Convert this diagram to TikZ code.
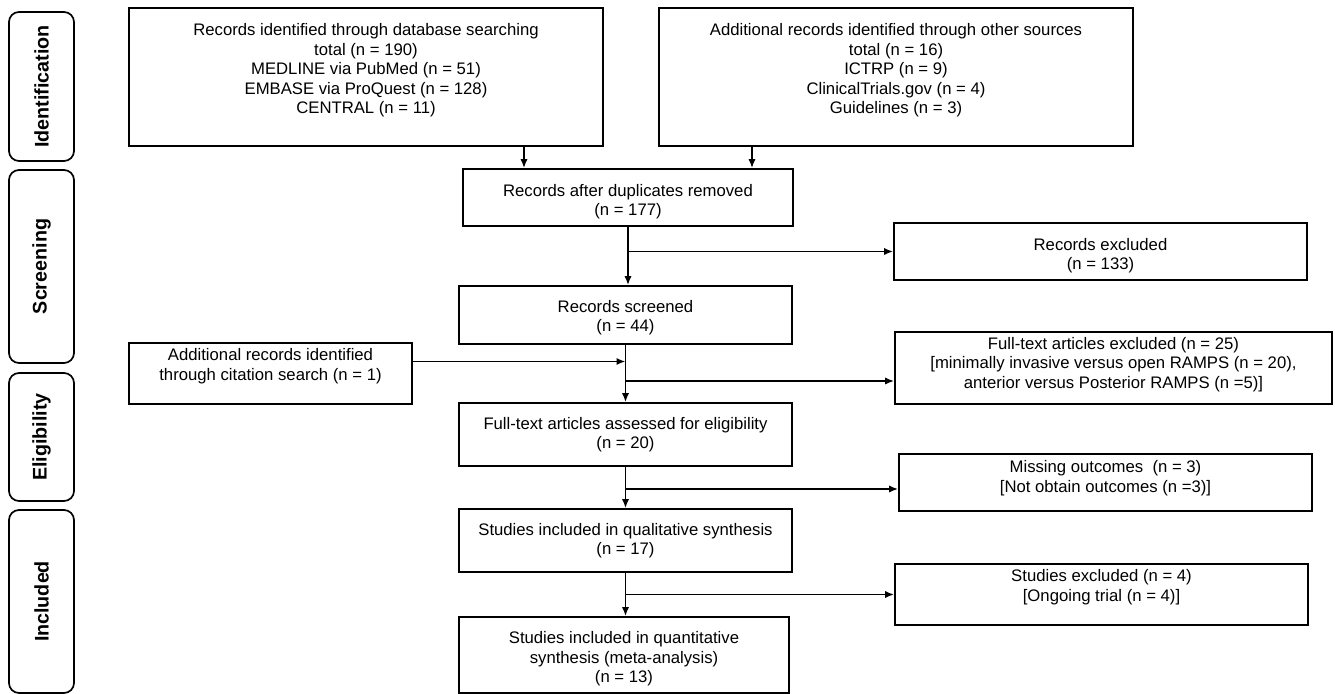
\documentclass[tikz,border=0pt]{standalone}
\usepackage{fontspec}
\setmainfont{Liberation Sans}
\usetikzlibrary{arrows.meta}
\newcommand{\toppad}[1]{\rule{0pt}{#1}}
\newcommand{\botpad}[1]{\rule[-#1]{0pt}{#1}}
\begin{document}
\begin{tikzpicture}[x=0.5pt,y=-0.5pt,>={Latex[length=4.5pt,width=3.6pt]},line width=0.85pt,
	font=\fontsize{8.35}{9.75}\selectfont,
	box/.style 2 args={draw,align=center,inner sep=0pt,minimum width=#1,minimum height=#2},
	stage/.style={draw,rounded corners=5pt,rotate=90,minimum height=32.5pt,inner sep=0pt,font=\fontsize{9.85}{12}\selectfont\bfseries}]
	\useasboundingbox (0,0) rectangle (1335,694);
	% phases
	\foreach \y/\h/\t in {86.5/74.5/Identification,266.5/96.5/Screening,437/64/Eligibility,601.5/91.5/Included}
	\node[stage,minimum width=\h pt] (\t) at (41.5,\y) {\t};
	% main column
	\node[box={237pt}{69pt}] (db) at (366,77) {Records identified through database searching\\total (n = 190)\\MEDLINE via PubMed (n = 51)\\EMBASE via ProQuest (n = 128)\\CENTRAL (n = 11)\botpad{8.25pt}};
	\node[box={237pt}{69pt}] (other) at (896,77) {Additional records identified through other sources\\total (n = 16)\\ICTRP (n = 9)\\ClinicalTrials.gov (n = 4)\\Guidelines (n = 3)\botpad{8.25pt}};
	\node[box={165pt}{28.5pt}] (dup) at (628,197.5) {\toppad{10.1pt}Records after duplicates removed\\(n = 177)};
	\node[box={166.5pt}{29pt}] (screened) at (625.5,315) {\toppad{8.6pt}Records screened\\(n = 44)};
	\node[box={141.5pt}{30.5pt}] (cite) at (270.5,373.5) {Additional records identified\\through citation search (n = 1)\botpad{9.25pt}};
	\node[box={166.5pt}{31.5pt}] (assessed) at (625.5,434.5) {Full-text articles assessed for eligibility\\(n = 20)};
	\node[box={166.5pt}{31.5pt}] (qual) at (625.5,540.5) {Studies included in qualitative synthesis\\(n = 17)};
	\node[box={165pt}{38pt}] (quant) at (624,655) {\toppad{9.8pt}Studies included in quantitative\\synthesis (meta-analysis)\\(n = 13)};
	% exclusions
	\node[box={206.5pt}{28.5pt}] (excl) at (1100.5,251.5) {\toppad{10.1pt}Records excluded\\(n = 133)};
	\node[box={218.5pt}{36pt}] (ftexcl) at (1113.5,368) {Full-text articles excluded (n = 25)\\{[}minimally invasive versus open RAMPS (n = 20),\\anterior versus Posterior RAMPS (n =5)]\botpad{5.25pt}};
	\node[box={206.5pt}{28.5pt}] (missing) at (1105.5,482.5) {Missing outcomes~~(n = 3)\\{[}Not obtain outcomes (n =3)]\botpad{6.25pt}};
	\node[box={206.5pt}{30.5pt}] (studexcl) at (1101.5,594.5) {Studies excluded (n = 4)\\{[}Ongoing trial (n = 4)]\botpad{9.25pt}};
	% arrows
	\draw[->] ([xshift=79pt]db.south) -- ([xshift=79pt]db.south |- dup.north);
	\draw[->] ([xshift=-72pt]other.south) -- ([xshift=-72pt]other.south |- dup.north);
	\draw[->] (dup.south) -- (dup.south |- screened.north);
	\draw[->] (dup.south |- excl.west) -- (excl.west);
	\draw[->] (screened.south) -- (screened.south |- assessed.north);
	\draw[->] ([yshift=6pt]cite.east) -- ([yshift=6pt]cite.east -| screened.south);
	\draw[->] ([yshift=-6.5pt]ftexcl.west -| screened.south) -- ([yshift=-6.5pt]ftexcl.west);
	\draw[->] (assessed.south) -- (assessed.south |- qual.north);
	\draw[->] ([yshift=-3.25pt]missing.west -| assessed.south) -- ([yshift=-3.25pt]missing.west);
	\draw[->] (qual.south) -- (qual.south |- quant.north);
	\draw[->] (qual.south |- studexcl.west) -- (studexcl.west);
\end{tikzpicture}
\end{document}
